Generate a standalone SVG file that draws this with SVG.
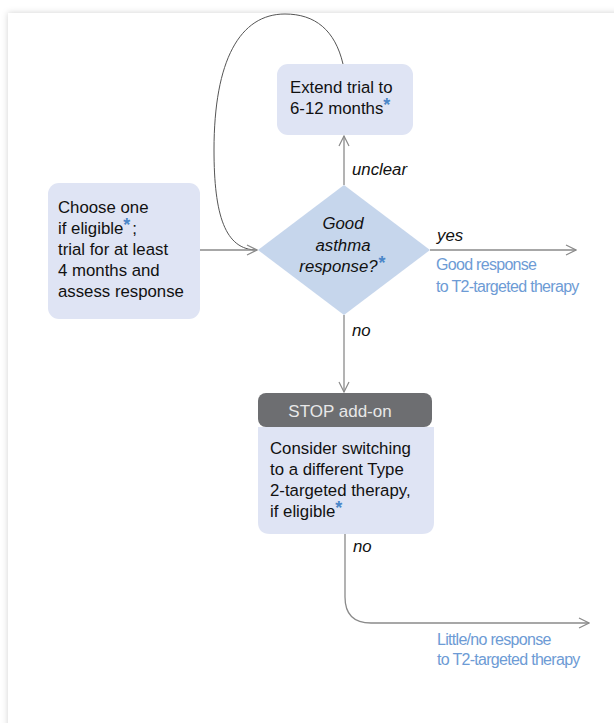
<svg xmlns="http://www.w3.org/2000/svg" width="614" height="723" viewBox="0 0 614 723">
<defs>
<filter id="sh" x="-5%" y="-5%" width="110%" height="110%">
<feDropShadow dx="0" dy="0" stdDeviation="3" flood-color="#000" flood-opacity="0.18"/>
</filter>
<marker id="ah" viewBox="0 0 12 12" refX="11" refY="6" markerWidth="12" markerHeight="12" markerUnits="userSpaceOnUse" orient="auto">
<path d="M1,1 L11,6 L1,11" fill="none" stroke="#8a8a8a" stroke-width="1.2"/>
</marker>
<style>
.box{fill:#dfe4f4}
.dia{fill:#c6d6ec}
.t{font-family:"Liberation Sans",Arial,sans-serif;font-size:16.8px;fill:#111}
.it{font-style:italic}
.ast{fill:#4a86c8;font-weight:bold;font-size:18px}
.out{font-family:"Liberation Sans",Arial,sans-serif;font-size:16px;fill:#6d9bd5;letter-spacing:-0.7px}
.ln{fill:none;stroke:#8a8a8a;stroke-width:1.3}
.lp{fill:none;stroke:#555;stroke-width:1}
</style>
</defs>
<rect width="614" height="723" fill="#ffffff"/>
<rect x="8" y="13" width="700" height="800" fill="#ffffff" filter="url(#sh)"/>

<g id="connectors">
<path class="lp" d="M343,64 C 335,30 315,14 285,14 C 240,14 214,60 214,150 C 214,215 225,250 257,250"/>
<path class="ln" d="M200,250 L257,250" marker-end="url(#ah)"/>
<path class="ln" d="M344,185 L344,136" marker-end="url(#ah)"/>
<path class="ln" d="M430,250 L576,250" marker-end="url(#ah)"/>
<path class="ln" d="M344,315 L344,392" marker-end="url(#ah)"/>
<path class="ln" d="M345,534 L345,597 Q345,623 371,623 L589,623" marker-end="url(#ah)"/>
<text class="t it" x="352" y="175">unclear</text>
<text class="t it" x="437" y="241">yes</text>
<text class="t it" x="352" y="336">no</text>
<text class="t it" x="353" y="552">no</text>
</g>

<g id="extend">
<rect class="box" x="277" y="64" width="136" height="71" rx="11"/>
<text class="t" x="290" y="93">Extend trial to</text>
<text class="t" x="290" y="114">6-12 months<tspan class="ast" dy="-3">*</tspan></text>
</g>

<g id="choose">
<rect class="box" x="48" y="183" width="152" height="136" rx="11"/>
<text class="t" x="58" y="213">Choose one</text>
<text class="t" x="58" y="234">if eligible<tspan class="ast" dy="-3">*</tspan><tspan dy="3" dx="2">;</tspan></text>
<text class="t" x="58" y="255">trial for at least</text>
<text class="t" x="58" y="276">4 months and</text>
<text class="t" x="58" y="297">assess response</text>
</g>

<g id="decision">
<polygon class="dia" points="344,185 430,250 344,315 258,250"/>
<text class="t it" x="343" y="229" text-anchor="middle">Good</text>
<text class="t it" x="343" y="251" text-anchor="middle">asthma</text>
<text class="t it" x="342" y="272" text-anchor="middle">response?<tspan class="ast" dy="-3">*</tspan></text>
</g>

<g id="good-response">
<text class="out" x="436" y="270">Good response</text>
<text class="out" x="436" y="292">to T2-targeted therapy</text>
</g>

<g id="stop">
<rect x="258" y="393" width="174" height="34" rx="8" fill="#6d6e71"/>
<text x="340" y="417" text-anchor="middle" font-family="'Liberation Sans',Arial,sans-serif" font-size="17" fill="#e8e8e8">STOP add-on</text>
</g>

<g id="switch">
<path class="box" d="M258,427 L434,427 L434,522 Q434,534 422,534 L270,534 Q258,534 258,522 Z"/>
<text class="t" x="270" y="454">Consider switching</text>
<text class="t" x="270" y="475">to a different Type</text>
<text class="t" x="270" y="496">2-targeted therapy,</text>
<text class="t" x="270" y="517">if eligible<tspan class="ast" dy="-3">*</tspan></text>
</g>

<g id="little-response">
<text class="out" x="437" y="645">Little/no response</text>
<text class="out" x="437" y="665">to T2-targeted therapy</text>
</g>
</svg>
